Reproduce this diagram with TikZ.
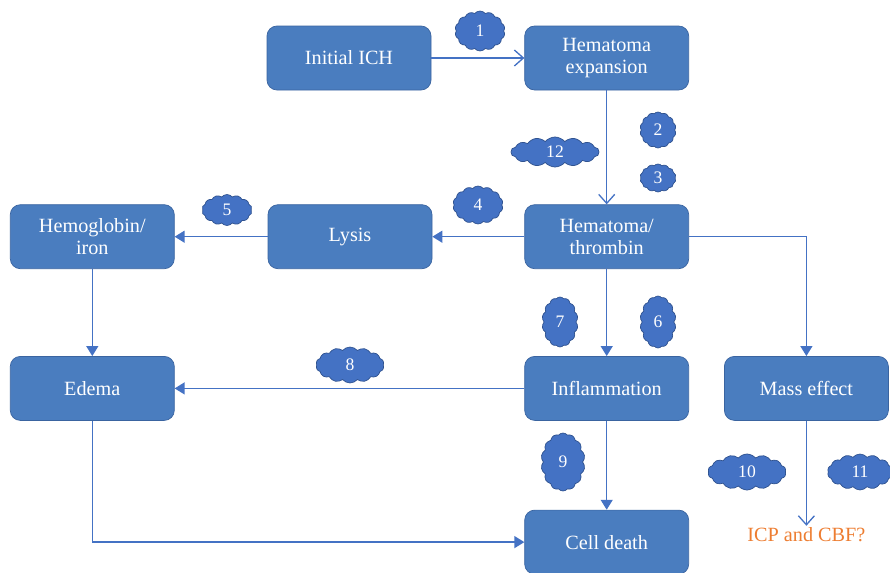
\documentclass[tikz,border=0pt]{standalone}
\usepackage{fontspec}
\setmainfont{Liberation Serif}
\usetikzlibrary{arrows.meta,positioning,shapes.symbols}
\definecolor{boxblue}{HTML}{4A7DBF}
\definecolor{boxedge}{HTML}{3A64A0}
\definecolor{lineblue}{HTML}{4472C4}
\definecolor{cloudedge}{HTML}{2F528F}
\definecolor{icporange}{HTML}{ED7D31}

\tikzset{
  stage/.style={draw=boxedge,fill=boxblue,rounded corners=0.2cm,text=white,
    minimum width=3.28cm,minimum height=1.28cm,align=center,
    font=\fontsize{11.5}{12.8}\selectfont},
  blob/.style={cloud,cloud puffs=14,cloud puff arc=100,cloud ignores aspect,draw=cloudedge,
    fill=lineblue,text=white,inner sep=0pt,font=\fontsize{10}{11}\selectfont},
  link/.style={lineblue,line width=0.75pt,-{Triangle[length=2mm,width=2.4mm]}},
  openlink/.style={lineblue,line width=0.75pt,-{Straight Barb[length=1.8mm,width=3.2mm]}}
}

\begin{document}
\begin{tikzpicture}
    \useasboundingbox (0,0) rectangle (17.8,-11.46);
    % boxes
    \node[stage] (ich) at (6.98,-1.16) {Initial ICH};
    \node[stage,right=1.86cm of ich] (expansion) {Hematoma\\expansion};
    \node[stage,below=2.28cm of expansion] (thrombin) {Hematoma/\\thrombin};
    \node[stage,left=1.84cm of thrombin] (lysis) {Lysis};
    \node[stage,left=1.86cm of lysis] (hemo) {Hemoglobin/\\iron};
    \node[stage,below=1.74cm of hemo] (edema) {Edema};
    \node[stage,below=1.74cm of thrombin] (inflam) {Inflammation};
    \node[stage,right=0.7cm of inflam] (mass) {Mass effect};
    \node[stage,below=1.78cm of inflam] (death) {Cell death};
    \node[below=2.1cm of mass,inner sep=1pt,text=icporange,font=\fontsize{11.5}{12.5}\selectfont] (icp) {ICP and CBF?};

    % clouds
    \node[blob,minimum width=1.0cm,minimum height=0.8cm] (c1) at (9.6,-0.62) {1};
    \node[blob,minimum width=0.72cm,minimum height=0.72cm] (c2) at (13.16,-2.6) {2};
    \node[blob,minimum width=0.72cm,minimum height=0.56cm] (c3) at (13.16,-3.56) {3};
    \node[blob,minimum width=1.0cm,minimum height=0.76cm] (c4) at (9.56,-4.1) {4};
    \node[blob,minimum width=1.0cm,minimum height=0.62cm] (c5) at (4.54,-4.2) {5};
    \node[blob,minimum width=0.72cm,minimum height=1.04cm] (c6) at (13.16,-6.44) {6};
    \node[blob,minimum width=0.72cm,minimum height=1.0cm] (c7) at (11.2,-6.44) {7};
    \node[blob,minimum width=1.36cm,minimum height=0.72cm] (c8) at (7.0,-7.3) {8};
    \node[blob,minimum width=0.88cm,minimum height=1.16cm] (c9) at (11.26,-9.24) {9};
    \node[blob,minimum width=1.56cm,minimum height=0.72cm] (c10) at (14.94,-9.44) {10};
    \node[blob,minimum width=1.3cm,minimum height=0.72cm] (c11) at (17.2,-9.44) {11};
    \node[blob,minimum width=1.76cm,minimum height=0.6cm] (c12) at (11.1,-3.04) {12};

    % connectors
    \draw[openlink] (ich) -- (expansion);
    \draw[openlink] (expansion) -- (thrombin);
    \draw[link] (thrombin) -- (lysis);
    \draw[link] (lysis) -- (hemo);
    \draw[link] (hemo) -- (edema);
    \draw[link] (thrombin) -- (inflam);
    \draw[link] (thrombin.east) -| (mass.north);
    \draw[link] (inflam) -- (edema);
    \draw[link] (inflam) -- (death);
    \draw[link] (edema.south) |- (death.west);
    \draw[openlink] (mass) -- (icp);
  \end{tikzpicture}
\end{document}
